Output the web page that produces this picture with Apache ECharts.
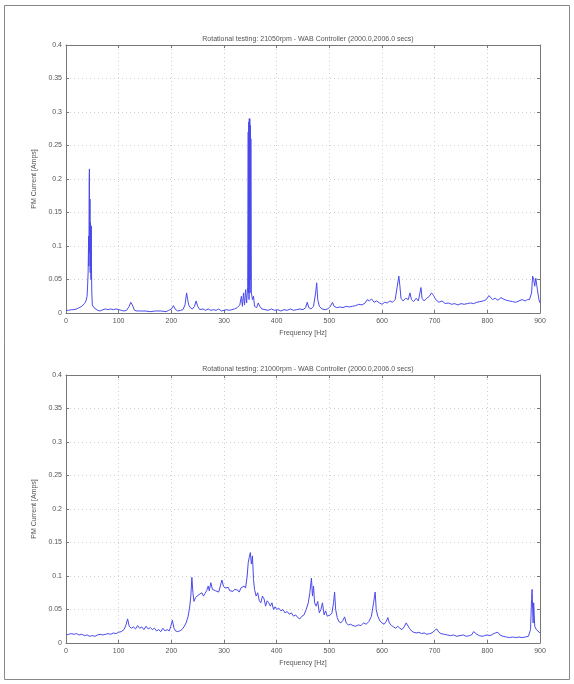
<!DOCTYPE html>
<html>
<head>
<meta charset="utf-8">
<script src="https://cdn.jsdelivr.net/npm/echarts@6/dist/echarts.min.js"></script>
<style>
html,body{margin:0;padding:0;background:#fff;}
#c{width:574px;height:684px;}
</style>
</head>
<body>
<div id="c"></div>
<script>
// ---- Data ----
const titleTop = 'Rotational testing: 21050rpm - WAB Controller (2000.0,2006.0 secs)';
const titleBottom = 'Rotational testing: 21000rpm - WAB Controller (2000.0,2006.0 secs)';
const xName = 'Frequency [Hz]';
const yName = 'PM Current [Amps]';

const freqTop = [0,5,10,15,20,25,30,35,38,40,41,42,43,43.5,44,44.5,45,45.5,46,46.5,47,47.5,48,48.5,49,50,53,56,60,65,70,75,80,85,90,95,100,105,110,115,120,123,126,130,135,140,150,160,170,180,190,195,200,204,207,212,218,222,226,229,231,233,236,240,244,247,250,254,260,265,270,275,280,285,290,295,300,305,310,315,320,325,330,333,335,337,339,341,343,345,346,346.5,347,347.5,348,348.5,349,349.5,350,350.5,351,352,354,356,358,362,365,368,372,378,384,390,396,402,408,414,420,426,432,438,444,450,455,458,461,465,470,474,476,478,481,486,492,497,502,506,509,514,520,526,532,538,544,550,556,562,568,572,576,580,585,590,595,600,605,610,615,620,625,628,632,634,636,640,645,650,653,656,660,665,669,672,674,676,680,685,690,694,698,702,708,714,720,726,732,738,744,750,756,762,768,774,780,786,792,798,803,806,810,815,820,826,830,836,842,848,854,860,866,872,876,880,884,886,888,890,892,895,898,900];
const ampTop = [0.004,0.004,0.005,0.005,0.006,0.008,0.010,0.014,0.018,0.025,0.040,0.060,0.115,0.070,0.200,0.215,0.090,0.170,0.060,0.135,0.120,0.050,0.130,0.060,0.030,0.012,0.008,0.006,0.004,0.003,0.005,0.006,0.005,0.006,0.005,0.006,0.005,0.004,0.003,0.004,0.010,0.016,0.012,0.004,0.003,0.003,0.003,0.002,0.003,0.003,0.002,0.004,0.006,0.011,0.006,0.003,0.004,0.005,0.012,0.030,0.020,0.012,0.008,0.006,0.010,0.018,0.010,0.005,0.006,0.004,0.006,0.004,0.005,0.004,0.006,0.003,0.004,0.005,0.004,0.005,0.006,0.008,0.012,0.025,0.010,0.030,0.012,0.035,0.015,0.040,0.270,0.030,0.285,0.020,0.290,0.040,0.290,0.030,0.280,0.050,0.260,0.030,0.020,0.025,0.010,0.008,0.015,0.010,0.006,0.005,0.004,0.006,0.004,0.005,0.003,0.005,0.004,0.006,0.004,0.005,0.006,0.005,0.008,0.016,0.008,0.006,0.010,0.030,0.045,0.020,0.010,0.006,0.005,0.006,0.010,0.016,0.010,0.008,0.009,0.008,0.010,0.009,0.010,0.011,0.013,0.012,0.015,0.020,0.018,0.021,0.016,0.018,0.015,0.013,0.016,0.015,0.018,0.016,0.020,0.018,0.055,0.040,0.022,0.018,0.022,0.020,0.030,0.020,0.017,0.022,0.018,0.030,0.038,0.022,0.018,0.022,0.025,0.030,0.026,0.020,0.016,0.018,0.014,0.015,0.013,0.014,0.012,0.014,0.013,0.014,0.015,0.014,0.016,0.017,0.018,0.020,0.026,0.024,0.020,0.022,0.019,0.023,0.021,0.019,0.018,0.017,0.016,0.018,0.020,0.018,0.020,0.020,0.030,0.055,0.050,0.040,0.052,0.035,0.020,0.015];

const freqBottom = [0,5,10,15,20,25,30,35,40,45,50,55,60,65,70,75,80,85,90,95,100,105,110,114,117,120,124,128,132,136,140,144,148,152,156,160,164,168,172,176,180,184,188,192,196,199,202,205,208,212,216,220,224,228,232,235,237,239,241,243,246,249,252,255,258,261,264,267,270,272,275,278,281,284,287,290,293,296,299,302,305,308,311,314,317,320,323,326,329,332,335,338,341,344,346,348,350,352,354,356,358,361,364,367,370,373,376,379,382,385,388,391,394,397,400,404,408,412,416,420,424,428,432,436,440,444,448,452,456,460,463,466,468,470,472,475,478,481,484,487,490,493,496,499,502,505,508,510,512,515,518,522,526,529,532,536,540,545,550,555,560,565,570,575,580,584,587,589,592,596,600,604,608,611,614,618,622,626,630,634,638,642,646,649,652,656,660,665,670,675,680,685,690,695,700,704,708,712,718,724,730,736,742,748,754,760,766,770,774,777,780,785,790,795,800,805,810,815,820,824,830,836,842,848,854,860,866,872,878,882,884,885,886,887,888,890,893,896,900];
const ampBottom = [0.012,0.013,0.014,0.013,0.014,0.012,0.013,0.011,0.012,0.010,0.011,0.010,0.012,0.013,0.012,0.013,0.014,0.013,0.015,0.014,0.016,0.017,0.020,0.027,0.036,0.025,0.022,0.024,0.021,0.026,0.022,0.024,0.020,0.025,0.021,0.023,0.020,0.022,0.018,0.020,0.017,0.022,0.018,0.020,0.018,0.025,0.034,0.022,0.018,0.017,0.018,0.020,0.024,0.030,0.040,0.055,0.070,0.098,0.075,0.062,0.068,0.066,0.072,0.070,0.075,0.070,0.074,0.078,0.085,0.078,0.090,0.080,0.082,0.078,0.080,0.076,0.085,0.094,0.085,0.082,0.080,0.083,0.078,0.080,0.077,0.080,0.078,0.079,0.076,0.082,0.080,0.085,0.082,0.100,0.120,0.128,0.135,0.118,0.130,0.095,0.080,0.070,0.075,0.063,0.060,0.070,0.066,0.055,0.063,0.060,0.055,0.060,0.050,0.054,0.050,0.052,0.048,0.050,0.045,0.047,0.043,0.045,0.040,0.042,0.038,0.036,0.040,0.042,0.050,0.060,0.075,0.097,0.070,0.085,0.060,0.055,0.062,0.045,0.050,0.060,0.042,0.048,0.040,0.038,0.042,0.045,0.060,0.076,0.050,0.038,0.032,0.030,0.034,0.039,0.030,0.027,0.028,0.026,0.025,0.027,0.026,0.030,0.028,0.032,0.040,0.060,0.076,0.050,0.040,0.033,0.030,0.028,0.032,0.038,0.030,0.026,0.024,0.022,0.025,0.022,0.020,0.024,0.030,0.032,0.022,0.018,0.016,0.015,0.016,0.014,0.015,0.013,0.014,0.015,0.019,0.021,0.016,0.014,0.013,0.012,0.011,0.012,0.010,0.011,0.012,0.010,0.011,0.012,0.017,0.019,0.013,0.011,0.010,0.011,0.012,0.011,0.013,0.015,0.016,0.012,0.010,0.009,0.008,0.009,0.008,0.009,0.008,0.009,0.010,0.020,0.065,0.080,0.050,0.030,0.060,0.025,0.020,0.018,0.015];

const xTicks = [0,100,200,300,400,500,600,700,800,900];
const yTicks = [0,0.05,0.1,0.15,0.2,0.25,0.3,0.35,0.4];

// ---- Chart ----
const chart = echarts.init(document.getElementById('c'), null, {renderer:'canvas'});
const FONT = 'Liberation Sans';
const txt = '#555';
const axisCol = '#777';

function pairs(xs, ys){ return xs.map((x,i)=>[x, ys[i]]); }

const grids = [
  {left:66, top:45, width:474, height:268},
  {left:66, top:375, width:474, height:268}
];

function mainX(gi){
  return {
    type:'value', gridIndex:gi, min:xTicks[0], max:xTicks[xTicks.length-1], interval:100,
    name:xName, nameLocation:'middle', nameGap:17,
    nameTextStyle:{fontFamily:FONT, fontSize:7, color:txt},
    axisLine:{show:true, onZero:false, lineStyle:{color:axisCol, width:1}},
    axisTick:{show:true, inside:true, length:3, lineStyle:{color:axisCol}},
    axisLabel:{fontFamily:FONT, fontSize:7, color:txt, margin:5},
    splitLine:{show:true, lineStyle:{color:'#d0d0d0', type:[1,3], width:1}}
  };
}
function boxX(gi){
  return {
    type:'value', gridIndex:gi, position:'top', min:0, max:900, interval:100,
    axisLine:{show:true, onZero:false, lineStyle:{color:axisCol, width:1}},
    axisTick:{show:true, inside:true, length:3, lineStyle:{color:axisCol}},
    axisLabel:{show:false}, splitLine:{show:false}
  };
}
function mainY(gi){
  return {
    type:'value', gridIndex:gi, min:yTicks[0], max:yTicks[yTicks.length-1], interval:0.05,
    name:yName, nameLocation:'middle', nameGap:26, nameRotate:90,
    nameTextStyle:{fontFamily:FONT, fontSize:7, color:txt},
    axisLine:{show:true, onZero:false, lineStyle:{color:axisCol, width:1}},
    axisTick:{show:true, inside:true, length:3, lineStyle:{color:axisCol}},
    axisLabel:{fontFamily:FONT, fontSize:7, color:txt, margin:4,
      formatter:v=>String(Math.round(v*100)/100)},
    splitLine:{show:true, lineStyle:{color:'#d0d0d0', type:[1,3], width:1}}
  };
}
function boxY(gi){
  return {
    type:'value', gridIndex:gi, position:'right', min:0, max:0.4, interval:0.05,
    axisLine:{show:true, onZero:false, lineStyle:{color:axisCol, width:1}},
    axisTick:{show:true, inside:true, length:3, lineStyle:{color:axisCol}},
    axisLabel:{show:false}, splitLine:{show:false}
  };
}

const lineColor = '#4a4aec';

chart.setOption({
  animation:false,
  backgroundColor:'#fff',
  title:[
    {text:titleTop, left:303, top:31, textAlign:'center',
     textStyle:{fontFamily:FONT, fontSize:7, fontWeight:'normal', color:'#555'}},
    {text:titleBottom, left:303, top:361, textAlign:'center',
     textStyle:{fontFamily:FONT, fontSize:7, fontWeight:'normal', color:'#555'}}
  ],
  grid:grids,
  xAxis:[mainX(0), mainX(1), boxX(0), boxX(1)],
  yAxis:[mainY(0), mainY(1), boxY(0), boxY(1)],
  series:[
    {type:'line', xAxisIndex:0, yAxisIndex:0, data:pairs(freqTop, ampTop),
     showSymbol:false, symbol:'none', lineStyle:{color:lineColor, width:1}},
    {type:'line', xAxisIndex:1, yAxisIndex:1, data:pairs(freqBottom, ampBottom),
     showSymbol:false, symbol:'none', lineStyle:{color:lineColor, width:1}}
  ],
  graphic:[
    {type:'rect', shape:{x:4.5, y:5.5, width:565, height:674}, silent:true, z:-1,
     style:{fill:'none', stroke:'#888', lineWidth:1}}
  ]
});
</script>
</body>
</html>
